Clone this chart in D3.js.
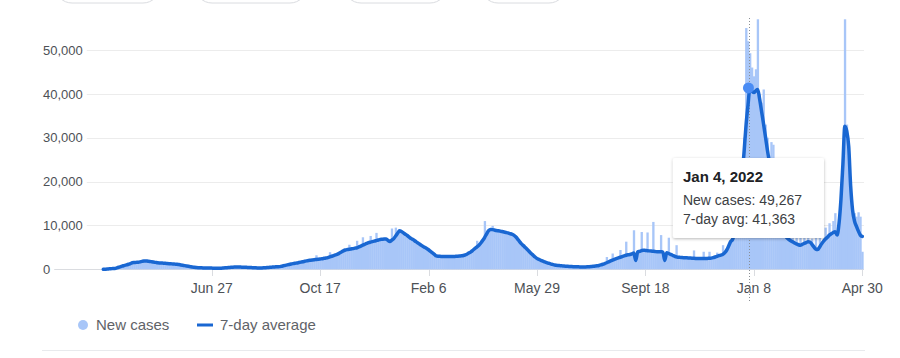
<!DOCTYPE html>
<html><head><meta charset="utf-8">
<script src="https://cdn.jsdelivr.net/npm/d3@7"></script>
<style>
html,body{margin:0;padding:0;background:#fff;}
svg{display:block;font-family:"Liberation Sans",Arial,sans-serif;}
</style></head><body>
<svg id="chart" width="900" height="358"></svg>
<script>
// ---- data (values in thousands of cases, one value per 2-day step from startDate) ----
const startDate = "2020-03-07";
const stepDays = 2;
const newCasesK = [
0,0.05,0.08,0.12,0.15,0.2,0.25,0.38,0.5,0.66,
0.8,0.95,1.05,1.2,1.38,1.55,1.6,1.55,1.7,1.75,
1.85,1.95,1.92,1.8,1.85,1.7,1.7,1.55,1.52,1.48,
1.45,1.38,1.4,1.3,1.32,1.22,1.24,1.15,1.18,1.05,
1.02,0.9,0.86,0.74,0.7,0.58,0.54,0.44,0.42,0.36,
0.36,0.32,0.32,0.29,0.3,0.27,0.28,0.25,0.26,0.24,
0.24,0.28,0.31,0.36,0.38,0.44,0.46,0.5,0.52,0.55,
0.52,0.5,0.49,0.45,0.45,0.41,0.41,0.36,0.36,0.32,
0.32,0.3,0.34,0.36,0.39,0.44,0.46,0.5,0.55,0.57,
0.6,0.63,0.72,0.82,0.92,1.02,1.12,1.22,1.33,1.4,
1.5,1.56,1.66,1.74,1.85,1.95,2.02,2.1,2.15,2.2,
3.2,2.3,2.4,2.45,2.55,2.6,2.7,3.9,3.0,3.2,
3.35,3.5,3.75,4.0,4.25,4.45,4.55,5.6,4.7,4.75,
4.85,6.5,5.15,5.35,7.3,5.75,5.95,6.1,7.6,6.35,
6.45,8.3,6.7,6.85,6.9,6.95,6.95,6.65,6.4,9.3,
7.1,9.5,8.3,8.9,8.7,8.35,8.05,7.75,7.4,7.05,
6.85,6.5,6.2,5.9,5.6,5.3,5.05,4.8,4.5,4.15,
3.8,3.45,3.1,3.3,3.0,2.95,2.95,2.92,2.92,2.92,
2.92,2.95,2.98,3.0,3.05,3.1,3.2,3.35,3.55,3.8,
4.1,4.45,4.8,6.5,5.55,6.05,6.65,11.0,8.2,8.9,
9.15,9.9,9.0,8.9,8.8,8.75,8.65,8.55,8.45,8.35,
8.2,8.05,7.85,7.45,6.95,6.35,5.85,5.45,5.0,4.55,
4.1,3.65,3.25,2.85,2.5,2.3,2.1,1.9,1.7,1.55,
1.4,1.26,1.14,1.02,0.92,0.88,0.84,0.8,0.76,0.72,
0.7,0.66,0.64,0.61,0.59,0.57,0.56,0.55,0.54,0.55,
0.58,0.62,0.66,0.7,0.76,0.82,0.9,1.02,1.18,1.32,
2.8,1.75,1.95,3.6,2.3,2.5,2.65,4.4,2.95,3.1,
6.3,3.3,3.35,3.55,8.9,2.2,3.9,4.1,8.5,4.3,
4.2,8.4,4.1,4.1,10.8,4.0,3.9,3.95,7.8,3.9,
2.2,3.7,7.2,3.3,3.1,2.9,5.5,2.7,2.65,2.6,
2.6,2.55,2.55,2.5,2.5,4.3,2.4,2.4,2.4,2.45,
4.0,2.45,2.45,4.0,2.5,2.6,2.75,3.8,3.05,3.2,
5.5,3.9,4.6,5.6,6.6,7.2,8.8,11.5,15.0,17.5,
24.0,30.0,55.0,52.0,49.267,46.0,44.0,45.6,57.0,40.0,
38.0,41.0,33.0,30.0,26.0,29.0,28.4,18.0,15.0,13.0,
11.0,9.8,8.6,8.0,7.5,7.2,8.5,6.5,8.9,6.0,
7.5,6.0,8.9,6.3,9.2,6.5,7.0,5.5,8.0,4.8,
8.9,6.0,6.8,9.5,7.6,10.5,8.5,11.0,12.8,8.0,
11.0,17.0,25.0,57.0,33.0,28.0,18.0,14.0,12.8,12.0,
13.0,12.0,4.0
];
const avg7K = [
0,0.03,0.06,0.1,0.14,0.18,0.2,0.33,0.47,0.62,
0.76,0.9,1.0,1.15,1.3,1.5,1.55,1.58,1.62,1.7,
1.8,1.88,1.9,1.85,1.8,1.72,1.65,1.58,1.5,1.45,
1.42,1.4,1.37,1.33,1.29,1.25,1.21,1.18,1.15,1.08,
1.0,0.92,0.84,0.76,0.68,0.6,0.52,0.45,0.4,0.37,
0.35,0.33,0.31,0.3,0.29,0.28,0.27,0.26,0.25,0.24,
0.23,0.26,0.3,0.34,0.38,0.42,0.46,0.49,0.51,0.53,
0.52,0.5,0.48,0.46,0.44,0.42,0.4,0.37,0.35,0.33,
0.31,0.3,0.32,0.35,0.38,0.42,0.45,0.49,0.53,0.56,
0.59,0.61,0.7,0.8,0.9,1.0,1.1,1.2,1.3,1.38,
1.45,1.54,1.63,1.72,1.82,1.92,2.0,2.06,2.12,2.18,
2.24,2.3,2.36,2.42,2.5,2.58,2.66,2.82,2.98,3.14,
3.3,3.46,3.7,3.95,4.2,4.4,4.5,4.56,4.64,4.72,
4.82,4.9,5.1,5.3,5.5,5.7,5.9,6.08,6.2,6.3,
6.42,6.55,6.68,6.8,6.85,6.9,6.9,6.6,6.35,6.65,
7.0,7.6,8.2,8.8,8.6,8.3,8.0,7.7,7.35,7.0,
6.8,6.45,6.15,5.85,5.55,5.25,5.0,4.74,4.45,4.1,
3.75,3.4,3.05,2.98,2.95,2.92,2.9,2.9,2.9,2.9,
2.9,2.92,2.95,2.98,3.02,3.08,3.15,3.3,3.5,3.75,
4.05,4.4,4.75,5.1,5.5,6.0,6.6,7.3,8.1,8.8,
9.1,9.05,8.95,8.85,8.78,8.7,8.6,8.5,8.4,8.3,
8.15,8.0,7.8,7.4,6.9,6.3,5.8,5.4,4.95,4.5,
4.05,3.6,3.2,2.8,2.45,2.25,2.05,1.85,1.68,1.52,
1.38,1.24,1.12,1.0,0.9,0.86,0.82,0.78,0.74,0.71,
0.68,0.65,0.62,0.6,0.58,0.56,0.55,0.54,0.53,0.54,
0.56,0.6,0.64,0.68,0.74,0.8,0.88,1.0,1.15,1.3,
1.5,1.7,1.9,2.1,2.28,2.45,2.6,2.75,2.9,3.05,
3.2,3.3,3.36,3.5,3.7,2.0,3.95,4.1,4.25,4.35,
4.3,4.25,4.2,4.15,4.1,4.05,4.0,4.0,3.98,3.97,
2.0,3.8,3.6,3.4,3.2,3.0,2.82,2.76,2.72,2.68,
2.65,2.62,2.6,2.57,2.54,2.5,2.47,2.45,2.45,2.46,
2.47,2.48,2.49,2.5,2.55,2.65,2.8,2.95,3.1,3.25,
3.4,3.8,4.4,5.3,6.3,6.8,8.5,11.0,14.5,17.0,
21.5,27.0,33.0,37.5,41.363,40.6,40.3,40.7,41.0,38.8,
36.0,33.2,30.2,27.2,24.5,21.5,18.7,16.0,13.8,12.0,
10.4,9.0,7.9,7.2,6.8,6.5,6.27,6.0,5.8,5.6,
5.5,5.7,5.9,6.1,6.27,6.2,5.7,5.1,4.6,4.5,
5.1,5.8,6.4,6.9,7.3,7.8,8.1,8.4,8.55,7.8,
10.5,16.0,24.0,32.6,31.5,28.0,19.0,13.5,11.0,9.8,
8.7,7.8,7.5
];
const yTicksK = [0, 10, 20, 30, 40, 50];
const yTickLabels = ["0", "10,000", "20,000", "30,000", "40,000", "50,000"];
const xTickDates = ["2020-06-27","2020-10-17","2021-02-06","2021-05-29","2021-09-18","2022-01-08","2022-04-30"];
const xTickLabels = ["Jun 27","Oct 17","Feb 6","May 29","Sept 18","Jan 8","Apr 30"];
const tooltipDate = "2022-01-04";
const tooltipTitle = "Jan 4, 2022";
const tooltipNewCases = 49267;
const tooltipAvg = 41363;
const legendLabels = ["New cases", "7-day average"];
const topButtons = [[55,160],[195,307],[344,447],[481,566]];

// ---- drawing ----
const parse = d3.utcParse("%Y-%m-%d");
const t0 = parse(startDate);
const dates = newCasesK.map((_, i) => d3.utcDay.offset(t0, i * stepDays));
const endDate = d3.utcDay.offset(t0, newCasesK.length * stepDays);

const svg = d3.select("#chart");
const colBar = "#a8c6f8", colLine = "#1967d2";

const x = d3.scaleUtc().domain([t0, endDate]).range([103.3, 864.2]);
const y = d3.scaleLinear().domain([0, 50]).range([269.3, 50]);

// top buttons (partially visible)
svg.append("g").selectAll("rect").data(topButtons).join("rect")
  .attr("x", d => d[0]).attr("y", -32).attr("width", d => d[1]-d[0]).attr("height", 35)
  .attr("rx", 17).attr("fill", "#fff").attr("stroke", "#dadce0").attr("stroke-width", 1);

// y grid + labels
const gy = svg.append("g");
yTicksK.forEach((t, i) => {
  const txt = gy.append("text").attr("x", 43).attr("y", y(t)).attr("dy", "0.36em")
    .attr("font-size", 13).attr("fill", "#4d5156").text(yTickLabels[i]);
  const w = txt.node().getComputedTextLength();
  gy.append("line").attr("x1", 43 + w + 4).attr("x2", 864)
    .attr("y1", Math.round(y(t)) + 0.5).attr("y2", Math.round(y(t)) + 0.5)
    .attr("stroke", t === 0 ? "#dadce0" : "#ececec").attr("stroke-width", 1);
});

// x ticks
const xt = xTickDates.map(parse);
svg.append("g").selectAll("line").data(xt).join("line")
  .attr("x1", d => Math.round(x(d)) + 0.5).attr("x2", d => Math.round(x(d)) + 0.5)
  .attr("y1", 270).attr("y2", 276).attr("stroke", "#dadce0");
svg.append("g").selectAll("text").data(xt).join("text")
  .attr("x", d => x(d)).attr("y", 293).attr("text-anchor", "middle")
  .attr("font-size", 14).attr("fill", "#4d5156").text((d, i) => xTickLabels[i]);

// bars
const bw = x(d3.utcDay.offset(t0, stepDays)) - x(t0);
svg.append("g").selectAll("rect").data(newCasesK).join("rect")
  .attr("x", (d, i) => x(dates[i]) - bw / 2)
  .attr("width", bw + 0.4)
  .attr("y", d => y(d))
  .attr("height", d => y(0) - y(d))
  .attr("fill", colBar);

// hover rule
const td = parse(tooltipDate);
const hx = x(td);
svg.append("line").attr("x1", Math.round(hx) - 0.5).attr("x2", Math.round(hx) - 0.5)
  .attr("y1", 18).attr("y2", 302).attr("stroke", "#8a8f94").attr("stroke-width", 1)
  .attr("stroke-dasharray", "1,2");

// 7-day line
const line = d3.line().x((d, i) => x(dates[i])).y(d => y(d)).curve(d3.curveMonotoneX);
svg.append("path").datum(avg7K).attr("d", line)
  .attr("fill", "none").attr("stroke", colLine).attr("stroke-width", 3.5)
  .attr("stroke-linejoin", "round").attr("stroke-linecap", "round");

// hover dot
svg.append("circle").attr("cx", hx - 1.5).attr("cy", y(tooltipAvg / 1000)).attr("r", 5.5)
  .attr("fill", "#4a8cf4");

// tooltip
const defs = svg.append("defs");
const f = defs.append("filter").attr("id", "sh").attr("x", "-20%").attr("y", "-20%").attr("width", "140%").attr("height", "150%");
f.append("feDropShadow").attr("dx", 0).attr("dy", 1).attr("stdDeviation", 1.8)
  .attr("flood-color", "#000").attr("flood-opacity", 0.28);
const fmt = d3.format(",");
const tip = svg.append("g").attr("transform", `translate(${hx - 77},158)`);
tip.append("rect").attr("width", 151).attr("height", 80).attr("rx", 2)
  .attr("fill", "#fff").attr("filter", "url(#sh)");
tip.append("text").attr("x", 10).attr("y", 24).attr("font-size", 15).attr("font-weight", "bold")
  .attr("fill", "#202124").text(tooltipTitle);
tip.append("text").attr("x", 10).attr("y", 47).attr("font-size", 14).attr("fill", "#3c4043")
  .text("New cases: " + fmt(tooltipNewCases));
tip.append("text").attr("x", 10).attr("y", 66).attr("font-size", 14).attr("fill", "#3c4043")
  .text("7-day avg: " + fmt(tooltipAvg));

// legend
const lg = svg.append("g");
lg.append("circle").attr("cx", 83).attr("cy", 325).attr("r", 5).attr("fill", colBar);
lg.append("text").attr("x", 96).attr("y", 330).attr("font-size", 15).attr("fill", "#5f6368").text(legendLabels[0]);
lg.append("line").attr("x1", 197).attr("x2", 213).attr("y1", 325).attr("y2", 325)
  .attr("stroke", colLine).attr("stroke-width", 3);
lg.append("text").attr("x", 220).attr("y", 330).attr("font-size", 15).attr("fill", "#5f6368").text(legendLabels[1]);
svg.append("line").attr("x1", 42).attr("x2", 865).attr("y1", 350.5).attr("y2", 350.5)
  .attr("stroke", "#e8eaed");
</script>
</body></html>
